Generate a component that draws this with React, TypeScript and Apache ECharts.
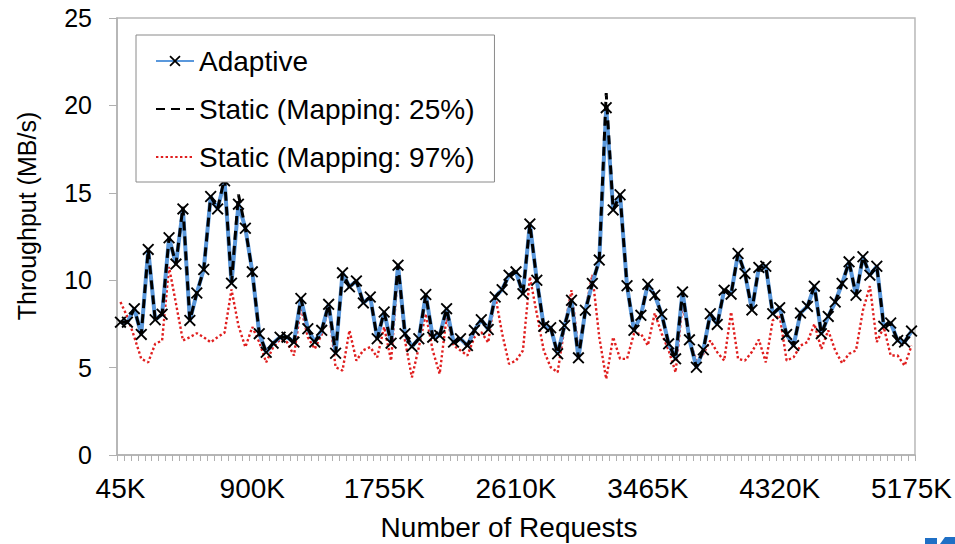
import React, { useEffect, useRef } from "react";
import * as echarts from "echarts";

const FONT = '"Liberation Sans", Arial, sans-serif';

// 115 request counts: 45K .. 5175K in steps of 45K
const categories: string[] = Array.from({ length: 115 }, (_, i) => `${45 * (i + 1)}K`);

const adaptive: number[] = [
  7.6, 7.6, 8.37, 6.9, 11.76, 7.74, 8.05, 12.43, 10.92, 14.08,
  7.7, 9.27, 10.61, 14.79, 14.08, 15.69, 9.83, 14.35, 12.97, 10.48,
  6.94, 5.88, 6.4, 6.74, 6.74, 6.46, 8.95, 7.22, 6.46, 7.13,
  8.62, 5.82, 10.42, 9.62, 9.96, 8.7, 9.04, 6.65, 8.18, 6.4,
  10.86, 6.94, 6.2, 6.65, 9.18, 6.74, 6.84, 8.37, 6.46, 6.65,
  6.26, 7.13, 7.74, 7.18, 9.04, 9.46, 10.29, 10.48, 9.23, 13.22,
  10.0, 7.36, 7.28, 5.79, 7.41, 8.85, 5.56, 8.28, 9.81, 11.15,
  19.87, 14.02, 14.89, 9.68, 7.13, 7.99, 9.77, 9.14, 8.05, 6.36,
  5.5, 9.33, 6.59, 5.02, 6.02, 8.08, 7.47, 9.43, 9.2, 11.53,
  10.38, 8.3, 10.73, 10.8, 8.08, 8.43, 6.9, 6.26, 8.12, 8.5,
  9.66, 6.94, 7.93, 8.75, 9.81, 11.05, 9.14, 11.34, 10.29, 10.8,
  7.36, 7.55, 6.55, 6.46, 7.09,
];

const static25: number[] = [
  7.6, 7.6, 8.37, 6.9, 11.76, 7.74, 8.05, 12.43, 10.92, 14.2,
  7.7, 9.27, 10.61, 14.79, 14.08, 15.85, 9.83, 14.9, 12.97, 10.48,
  6.94, 5.88, 6.4, 6.74, 6.74, 6.46, 8.95, 7.22, 6.46, 7.13,
  8.62, 5.82, 10.42, 9.62, 9.96, 8.7, 9.04, 6.65, 8.18, 6.4,
  10.86, 6.94, 6.2, 6.65, 9.18, 6.74, 6.84, 8.37, 6.46, 6.65,
  6.26, 7.13, 7.74, 7.18, 9.04, 9.46, 10.29, 10.48, 9.23, 13.22,
  10.0, 7.36, 7.28, 5.79, 7.41, 8.85, 5.56, 8.28, 9.81, 11.15,
  20.7, 14.02, 14.89, 9.68, 7.13, 7.99, 9.77, 9.14, 8.05, 6.36,
  5.5, 9.33, 6.59, 5.02, 6.02, 8.08, 7.47, 9.43, 9.2, 11.53,
  10.38, 8.3, 10.73, 10.8, 8.08, 8.43, 6.9, 6.26, 8.12, 8.5,
  9.66, 6.94, 7.93, 8.75, 9.81, 11.05, 9.14, 11.34, 10.29, 10.8,
  7.36, 7.55, 6.55, 6.46, 7.09,
];

const static97: number[] = [
  8.75, 7.9, 6.74, 5.5, 5.3, 6.36, 6.55, 10.76, 8.66, 6.55,
  6.74, 6.97, 6.74, 6.45, 6.74, 7.0, 9.47, 7.4, 6.17, 7.32,
  6.46, 5.3, 6.17, 6.6, 6.46, 5.69, 8.47, 6.74, 6.07, 6.9,
  8.47, 5.02, 4.83, 7.13, 5.4, 6.0, 6.17, 5.59, 7.32, 5.4,
  10.57, 6.55, 4.44, 6.17, 8.08, 5.98, 4.64, 7.89, 6.26, 5.98,
  5.69, 6.74, 7.03, 6.43, 9.15, 6.95, 5.21, 5.4, 5.98, 10.19,
  8.08, 5.98, 5.02, 4.73, 7.32, 9.43, 5.98, 8.28, 10.3, 6.74,
  4.35, 6.74, 5.5, 5.5, 6.94, 6.94, 6.27, 8.12, 6.94, 5.98,
  4.73, 8.66, 6.55, 5.4, 5.79, 6.55, 5.88, 5.4, 8.18, 5.5,
  5.4, 5.9, 6.6, 5.3, 7.7, 7.99, 5.4, 5.59, 6.26, 6.46,
  7.5, 6.07, 7.13, 5.98, 5.25, 5.79, 5.98, 8.28, 9.66, 6.46,
  7.32, 5.69, 5.69, 5.11, 6.26,
];

const seriesNames = ["Adaptive", "Static (Mapping: 25%)", "Static (Mapping: 97%)"];
const yTitle = "Throughput (MB/s)";
const xTitle = "Number of Requests";

const X_MARK = "path://M0,1.1L1.1,0L5,3.9L8.9,0L10,1.1L6.1,5L10,8.9L8.9,10L5,6.1L1.1,10L0,8.9L3.9,5Z";

export default function App() {
  const ref = useRef<HTMLDivElement>(null);
  useEffect(() => {
    if (!ref.current) return;
    const chart = echarts.init(ref.current, undefined, { renderer: "svg" });
    chart.setOption({
      animation: false,
      backgroundColor: "#ffffff",
      textStyle: { fontFamily: FONT },
      grid: {
        left: 117,
        right: 39,
        top: 18,
        bottom: 89,
        show: true,
        borderColor: "#b8b8b8",
        borderWidth: 1.5,
      },
      legend: {
        orient: "vertical",
        left: 136,
        top: 35,
        padding: [12, 20, 11, 19],
        itemGap: 20,
        itemWidth: 38,
        itemHeight: 14,
        borderColor: "#8a8a8a",
        borderWidth: 1,
        backgroundColor: "#ffffff",
        textStyle: { fontFamily: FONT, fontSize: 28, color: "#000", lineHeight: 28 },
        data: [
          { name: seriesNames[0] },
          { name: seriesNames[1], itemStyle: { opacity: 0 } },
          { name: seriesNames[2], itemStyle: { opacity: 0 } },
        ],
      },
      xAxis: {
        type: "category",
        data: categories,
        boundaryGap: true,
        axisLine: { show: true, lineStyle: { color: "#b0b0b0", width: 1.5 } },
        axisTick: { show: true, interval: 0, length: 6, lineStyle: { color: "#b0b0b0" } },
        axisLabel: {
          interval: 18,
          fontFamily: FONT,
          fontSize: 28,
          color: "#000",
          margin: 19,
        },
        splitLine: { show: false },
      },
      yAxis: {
        type: "value",
        min: 0,
        max: 25,
        interval: 5,
        axisLine: { show: true, lineStyle: { color: "#b0b0b0", width: 1.5 } },
        axisTick: { show: true, length: 8, lineStyle: { color: "#b0b0b0" } },
        axisLabel: { fontFamily: FONT, fontSize: 25, color: "#000", margin: 25 },
        splitLine: { show: false },
      },
      graphic: [
        {
          type: "text",
          x: 27,
          y: 216,
          rotation: Math.PI / 2,
          style: {
            text: yTitle,
            font: `25px ${FONT}`,
            fill: "#000",
            align: "center",
            verticalAlign: "middle",
          },
        },
        {
          type: "text",
          x: 509,
          y: 527,
          style: {
            text: xTitle,
            font: `28px ${FONT}`,
            fill: "#000",
            align: "center",
            verticalAlign: "middle",
          },
        },
        { type: "rect", shape: { x: 925, y: 538, width: 12, height: 6 }, style: { fill: "#1f6fc5" } },
        {
          type: "polygon",
          shape: { points: [[940, 544], [945, 537], [955, 537], [955, 544]] },
          style: { fill: "#1f6fc5" },
        },
      ],
      series: [
        {
          name: seriesNames[0],
          type: "line",
          data: adaptive,
          symbol: X_MARK,
          symbolSize: 12,
          showSymbol: true,
          showAllSymbol: true,
          itemStyle: { color: "#000" },
          lineStyle: { color: "#5a98dc", width: 4 },
          z: 2,
        },
        {
          name: seriesNames[1],
          type: "line",
          data: static25,
          symbol: "none",
          itemStyle: { color: "#000" },
          lineStyle: { color: "#000", width: 3, type: [9, 6] },
          z: 3,
        },
        {
          name: seriesNames[2],
          type: "line",
          data: static97,
          symbol: "none",
          itemStyle: { color: "#e01e1e" },
          lineStyle: { color: "#e01e1e", width: 2.4, type: [2.4, 2.4] },
          z: 1,
        },
      ],
    });
    return () => chart.dispose();
  }, []);
  return <div ref={ref} style={{ width: 955, height: 544, position: "absolute", left: 0, top: 0 }} />;
}
